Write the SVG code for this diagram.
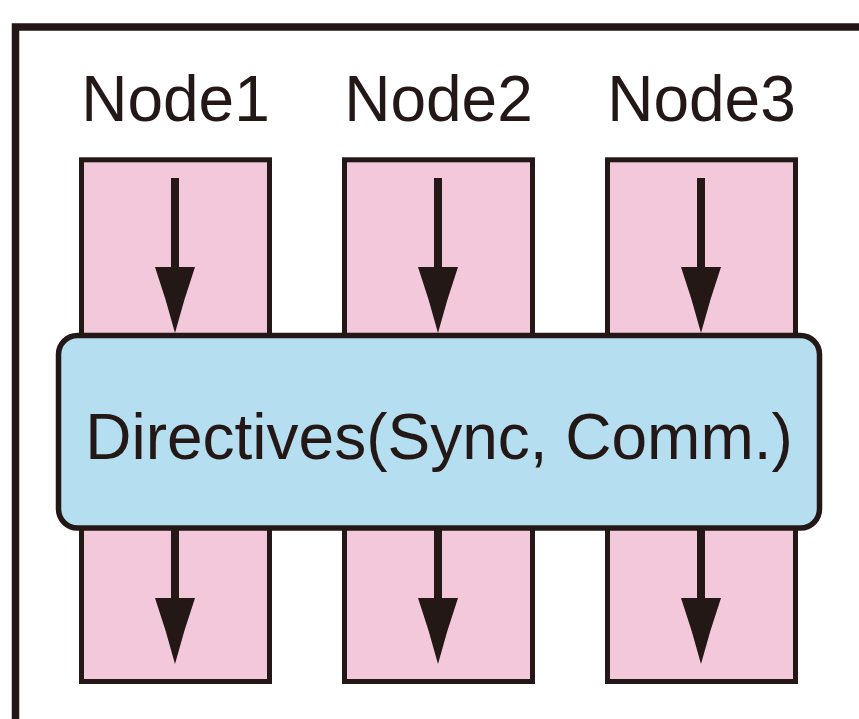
<svg xmlns="http://www.w3.org/2000/svg" width="859" height="719" viewBox="0 0 859 719">
<style>
.col{fill:#f2c8da;stroke:#231815;stroke-width:5}
.lbl{font-family:"Liberation Sans",Arial,sans-serif;font-size:64px;fill:#231815;text-anchor:middle}
.shaft{stroke:#231815;stroke-width:8;fill:none}
.head{fill:#231815}
</style>
<defs>
<path id="hd" d="M0,0 Q-9,-34 -20,-66 L20,-66 Q9,-34 0,0 Z"/>
</defs>
<rect width="859" height="719" fill="#fff"/>
<path d="M15.5,719 V27 H859" fill="none" stroke="#231815" stroke-width="7.5"/>
<g id="node1">
<text class="lbl" x="175.5" y="120.7">Node1</text>
<rect class="col" x="81.5" y="159.8" width="188" height="521.7"/>
</g>
<g id="node2">
<text class="lbl" x="438.5" y="120.7">Node2</text>
<rect class="col" x="344.5" y="159.8" width="188" height="521.7"/>
</g>
<g id="node3">
<text class="lbl" x="701.5" y="120.7">Node3</text>
<rect class="col" x="607.5" y="159.8" width="188" height="521.7"/>
</g>
<g id="connectors">
<path class="shaft" d="M175,178 V272 M438,178 V272 M701,178 V272 M175,528 V602 M438,528 V602 M701,528 V602"/>
<use href="#hd" class="head" x="175" y="333"/>
<use href="#hd" class="head" x="438" y="333"/>
<use href="#hd" class="head" x="701" y="333"/>
<use href="#hd" class="head" x="175" y="664"/>
<use href="#hd" class="head" x="438" y="664"/>
<use href="#hd" class="head" x="701" y="664"/>
</g>
<g id="directives">
<rect x="58.5" y="335.5" width="761" height="192.5" rx="19" fill="#b5def0" stroke="#231815" stroke-width="5.5"/>
<text class="lbl" x="439" y="459.3">Directives(Sync, Comm.)</text>
</g>
</svg>
